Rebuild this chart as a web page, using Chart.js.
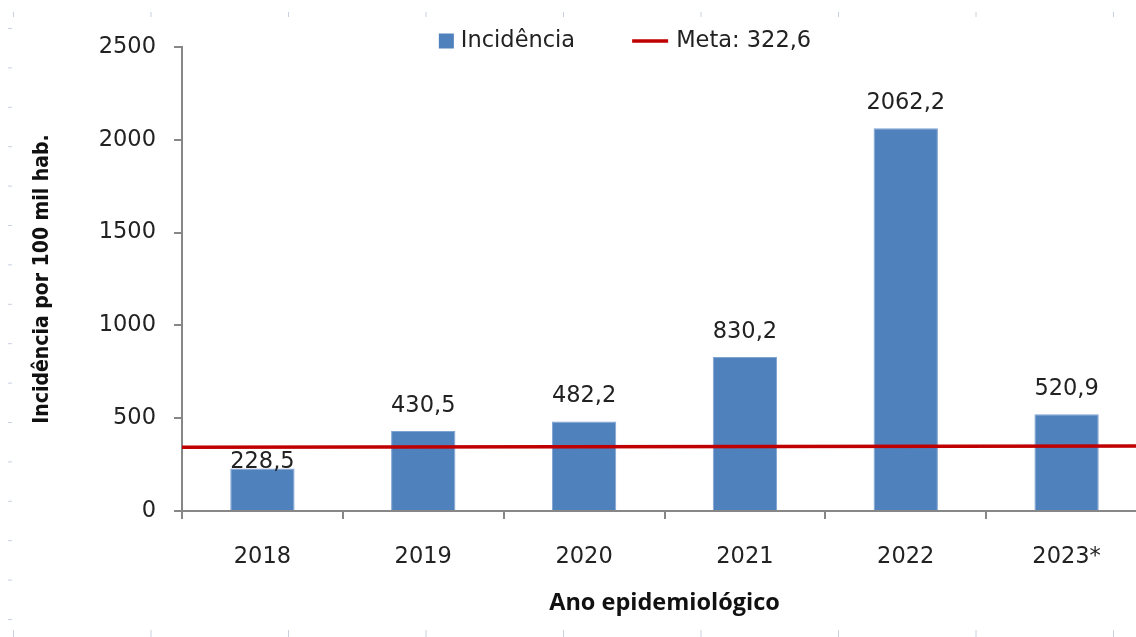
<!DOCTYPE html>
<html>
<head>
<meta charset="utf-8">
<script src="https://cdn.jsdelivr.net/npm/chart.js@4.4.0/dist/chart.umd.min.js"></script>
<style>
  body { margin: 0; overflow: hidden; background: #fff; }
  #wrap { width: 1150px; height: 637px; }
</style>
</head>
<body>
<div id="wrap"><canvas id="grafico" width="1150" height="637"></canvas></div>
<script>
var anos = ['2018', '2019', '2020', '2021', '2022', '2023*'];
var incidencia = [228.5, 430.5, 482.2, 830.2, 2062.2, 520.9];
var metaLabel = 'Meta: 322,6';
// the red line as drawn in the picture (slightly rising), on a 0..6 axis
var metaX = [0, 6];
var metaY = [343, 350];
var yTicks = [0, 500, 1000, 1500, 2000, 2500];

var azul = '#4F81BD';
var vermelho = '#C00000';
var cinza = '#878787';
var texto = '#222222';
var fonte = 'DejaVu Sans, Verdana, sans-serif';

function fmt(v) {
    return v.toFixed(1).replace('.', ',');
}

// faint spreadsheet cell marks along the picture edges
var bordaPlanilha = {
    id: 'bordaPlanilha',
    beforeDraw: function(chart) {
        var ctx = chart.ctx;
        ctx.save();
        ctx.strokeStyle = '#c9d1de';
        ctx.lineWidth = 1;
        for (var i = 0; i < 9; i++) {
            var x = 13.5 + 137.5 * i;
            ctx.beginPath();
            ctx.moveTo(x, 12); ctx.lineTo(x, 17);
            ctx.moveTo(x, 630); ctx.lineTo(x, 637);
            ctx.stroke();
        }
        for (var j = 0; j < 16; j++) {
            var y = 28.5 + 39.4 * j;
            ctx.beginPath();
            ctx.moveTo(8, y); ctx.lineTo(12, y);
            ctx.stroke();
        }
        ctx.restore();
    }
};

// value labels above the bars, moved under the red line where they would cross it
var rotulos = {
    id: 'rotulos',
    afterDatasetsDraw: function(chart) {
        var ctx = chart.ctx;
        var barMeta = chart.getDatasetMeta(0);
        var lineMeta = chart.getDatasetMeta(1);
        var p0 = lineMeta.data[0], p1 = lineMeta.data[1];
        ctx.save();
        ctx.font = '22.5px ' + fonte;
        ctx.fillStyle = texto;
        ctx.textAlign = 'center';
        ctx.textBaseline = 'middle';
        barMeta.data.forEach(function(bar, i) {
            var lineY = p0.y + (p1.y - p0.y) * (bar.x - p0.x) / (p1.x - p0.x);
            var y = bar.y - 25;
            if (Math.abs(y - lineY) < 14) {
                y = lineY + 15;
            }
            ctx.fillText(fmt(incidencia[i]), bar.x, y);
        });
        ctx.restore();
    }
};

// legend: blue square and red line, as in the spreadsheet
var legenda = {
    id: 'legenda',
    afterDraw: function(chart) {
        var ctx = chart.ctx;
        var ds = chart.data.datasets;
        ctx.save();
        ctx.font = '22.5px ' + fonte;
        ctx.textBaseline = 'middle';
        ctx.fillStyle = texto;
        var w1 = ctx.measureText(ds[0].label).width;
        var w2 = ctx.measureText(ds[1].label).width;
        var total = 15 + 7 + w1 + 57 + 36 + 8 + w2;
        var x = 625 - total / 2;
        var cy = 41;
        ctx.fillStyle = azul;
        ctx.fillRect(x, cy - 7.5, 15, 15);
        ctx.fillStyle = texto;
        ctx.fillText(ds[0].label, x + 22, cy);
        x += 22 + w1 + 57;
        ctx.strokeStyle = vermelho;
        ctx.lineWidth = 3.5;
        ctx.beginPath();
        ctx.moveTo(x, cy);
        ctx.lineTo(x + 36, cy);
        ctx.stroke();
        ctx.fillText(ds[1].label, x + 44, cy);
        ctx.restore();
    }
};

var ctx = document.getElementById('grafico').getContext('2d');
var grafico = new Chart(ctx, {
    type: 'bar',
    data: {
        labels: anos,
        datasets: [{
            label: 'Incidência',
            data: incidencia,
            backgroundColor: azul,
            borderColor: '#7FA3D2',
            borderWidth: 1,
            grouped: false,
            categoryPercentage: 1.0,
            barPercentage: 0.4,
            order: 1
        }, {
            type: 'line',
            label: metaLabel,
            data: metaX.map(function(x, i) { return { x: x, y: metaY[i] }; }),
            xAxisID: 'xl',
            borderColor: vermelho,
            borderWidth: 3.5,
            pointRadius: 0,
            fill: false,
            order: 0
        }]
    },
    options: {
        responsive: false,
        animation: false,
        layout: { padding: { left: 20, right: 3, top: 47, bottom: 0 } },
        plugins: {
            legend: { display: false },
            tooltip: { enabled: false }
        },
        scales: {
            x: {
                afterFit: function(s) { s.height = 126; },
                grid: {
                    offset: true,
                    drawOnChartArea: false,
                    tickLength: 8,
                    color: cinza,
                    lineWidth: 2
                },
                border: { color: cinza, width: 2 },
                ticks: { color: texto, font: { family: fonte, size: 22.5 }, padding: 25 },
                title: {
                    display: true,
                    text: 'Ano epidemiológico',
                    color: '#111',
                    font: { family: 'Open Sans, sans-serif', size: 23.5, weight: 'bold' },
                    padding: { top: 0, bottom: 20 }
                }
            },
            xl: {
                type: 'linear',
                display: false,
                offset: false,
                min: 0,
                max: 6
            },
            y: {
                min: 0,
                max: 2500,
                afterFit: function(s) { s.width = 162; },
                afterBuildTicks: function(s) {
                    s.ticks = yTicks.map(function(v) { return { value: v }; });
                },
                grid: {
                    drawOnChartArea: false,
                    tickLength: 8,
                    color: cinza,
                    lineWidth: 2
                },
                border: { color: cinza, width: 2 },
                ticks: {
                    color: texto,
                    font: { family: fonte, size: 22.5 },
                    padding: 18,
                    callback: function(v) { return String(v); }
                },
                title: {
                    display: true,
                    text: 'Incidência por 100 mil hab.',
                    color: '#111',
                    font: { family: "'Liberation Sans Narrow', 'DejaVu Sans Condensed', 'DejaVu Sans', sans-serif", size: 21, weight: 'bold' },
                    padding: { top: 10, bottom: 0 }
                }
            }
        }
    },
    plugins: [bordaPlanilha, rotulos, legenda]
});
</script>
</body>
</html>
